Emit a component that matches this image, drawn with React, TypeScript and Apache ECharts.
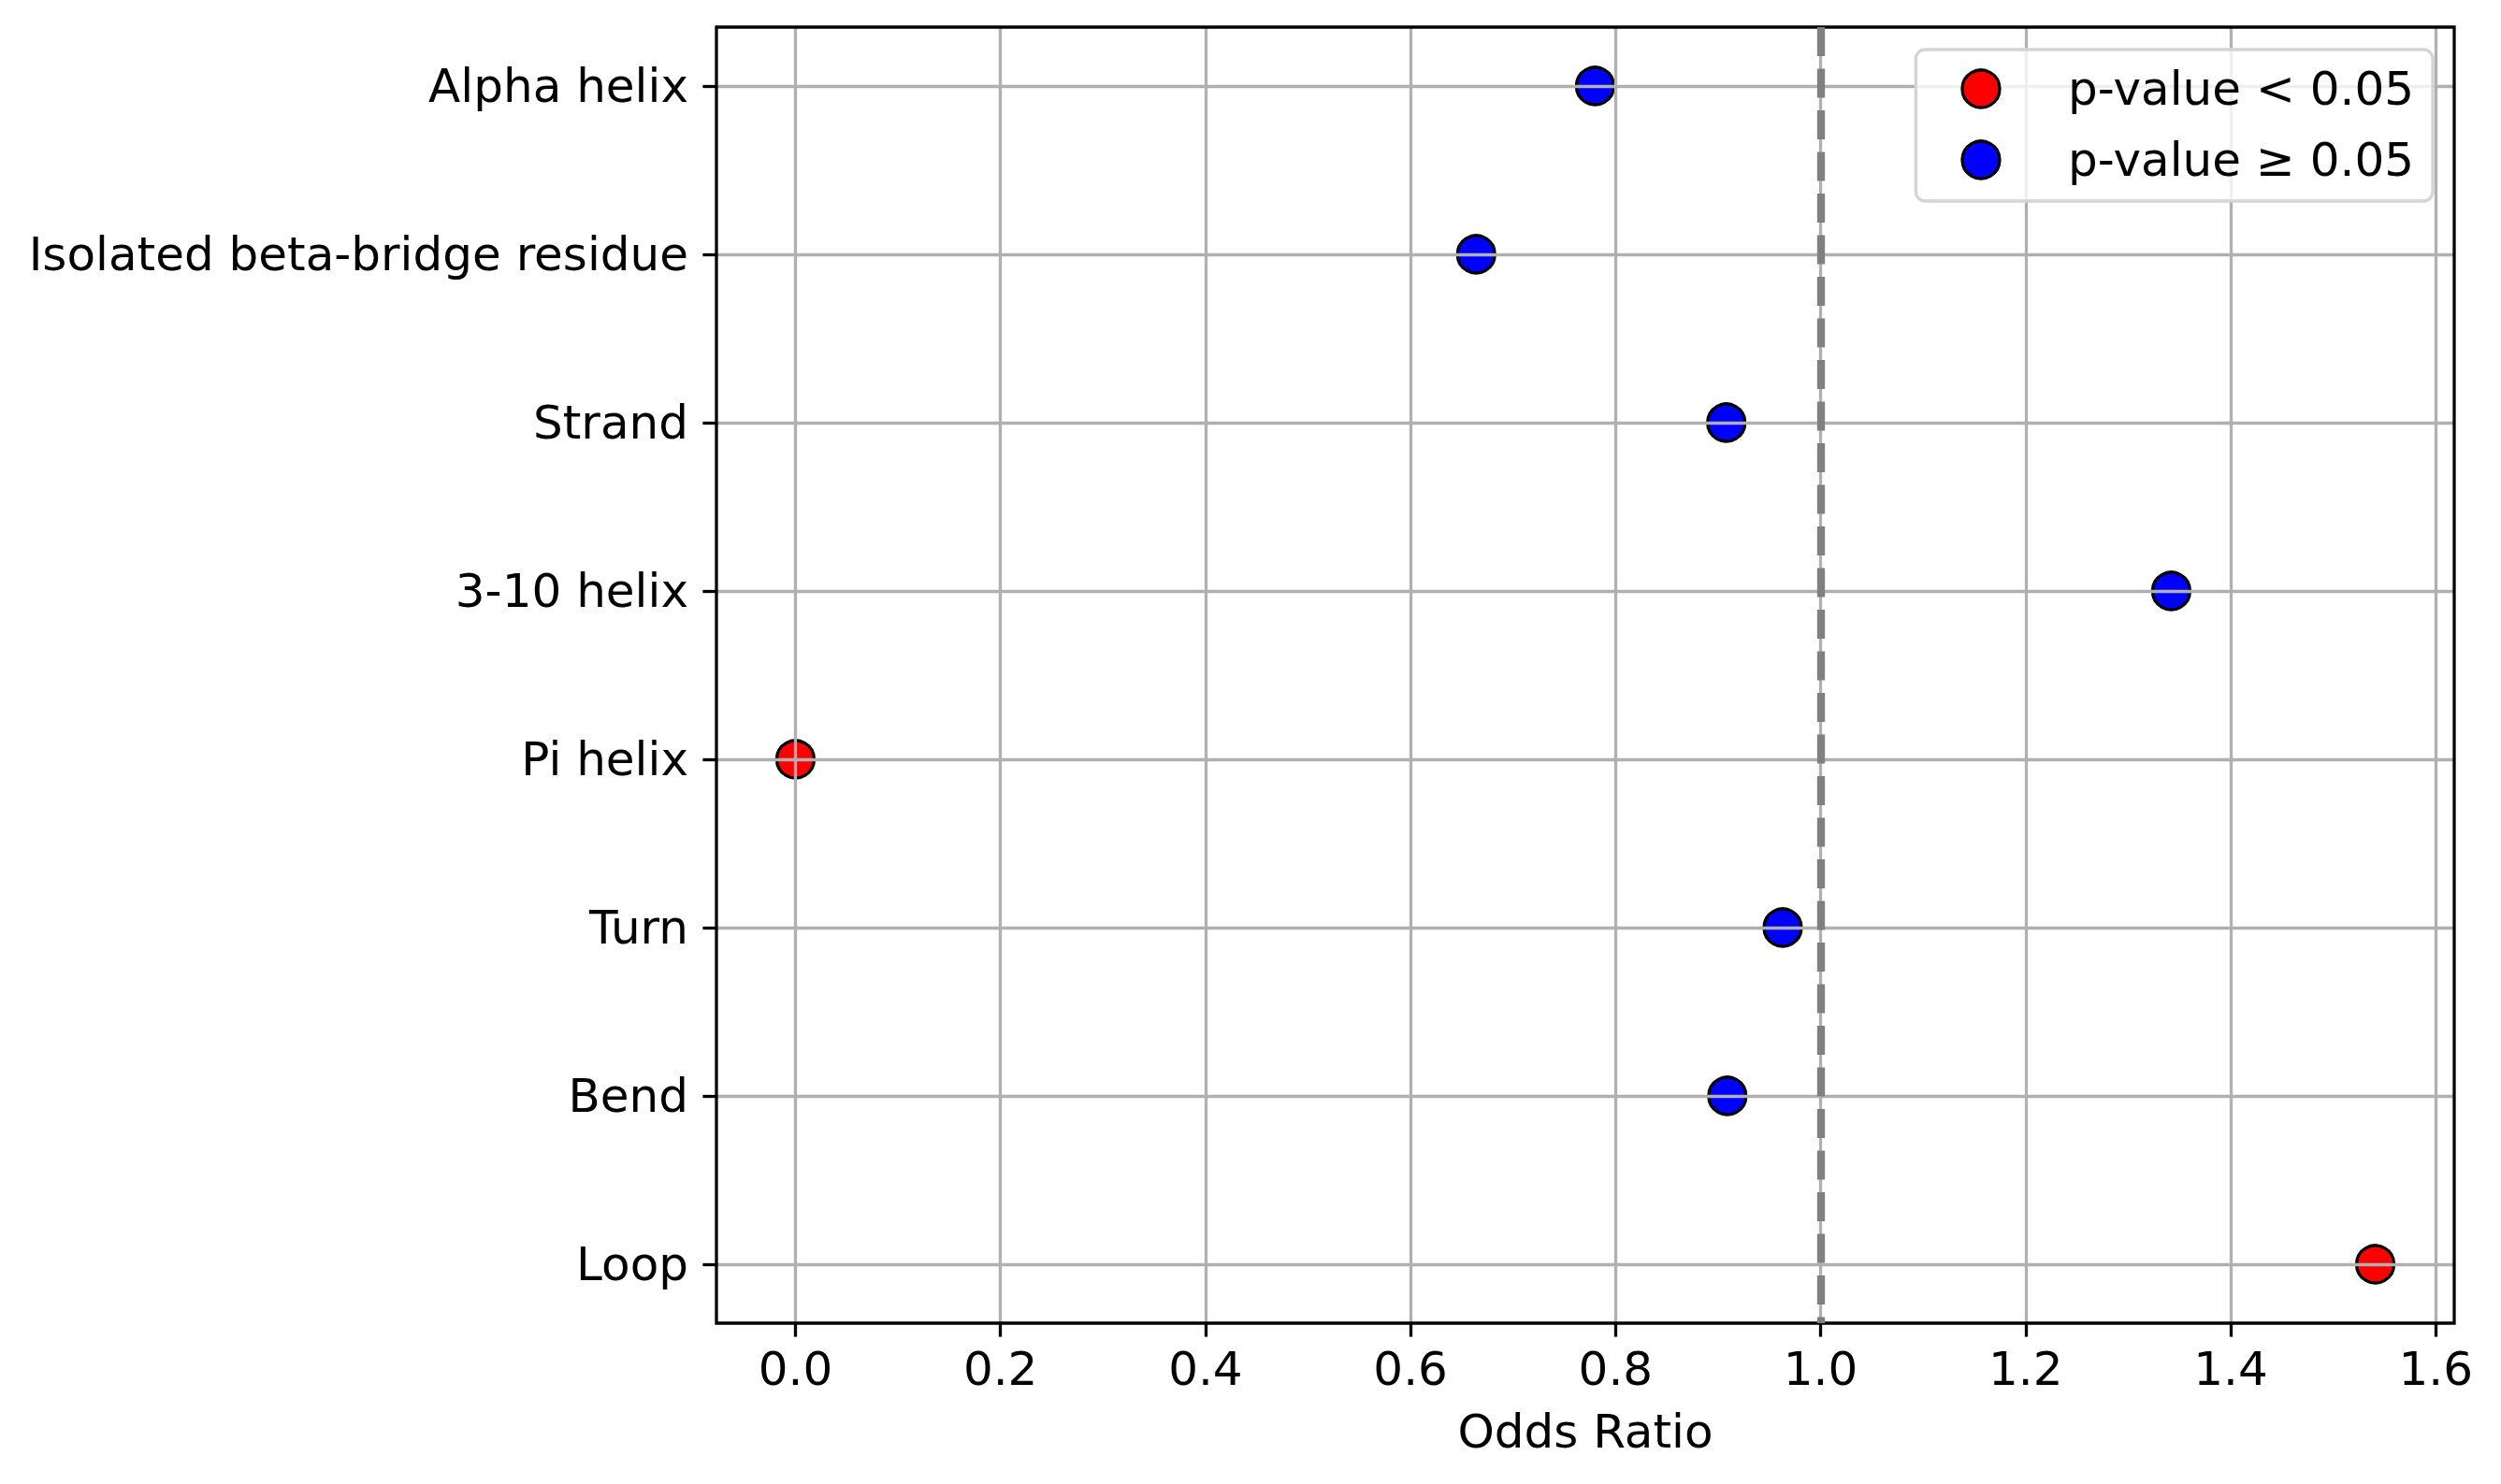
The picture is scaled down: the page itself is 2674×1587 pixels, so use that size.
import React, { useEffect, useRef } from "react";
import * as echarts from "echarts";

// ---- Data ----
const categories = [
  "Alpha helix",
  "Isolated beta-bridge residue",
  "Strand",
  "3-10 helix",
  "Pi helix",
  "Turn",
  "Bend",
  "Loop",
];
const oddsRatios = [0.78, 0.664, 0.908, 1.342, 0.0, 0.963, 0.909, 1.541];
const significant = [false, false, false, false, true, false, false, true];
const legendLabels = ["p-value < 0.05", "p-value \u2265 0.05"];
const seriesColors = ["#ff0000", "#0000ff"];
const xTickMin = 0;
const xTickMax = 1.6;
const xTickStep = 0.2;
const referenceOddsRatio = 1.0;
const xAxisTitle = "Odds Ratio";

// ---- Layout ----
const W = 2674;
const H = 1587;
const PLOT = { left: 766, right: 2624, top: 29, bottom: 1415 };
const FONT = "DejaVu Sans";
const FS = 50;
const LW = 3.3;

export default function App() {
  const ref = useRef<HTMLDivElement>(null);

  useEffect(() => {
    if (!ref.current) return;
    const chart = echarts.init(ref.current, undefined, { renderer: "svg" });

    const dataMin = Math.min(...oddsRatios);
    const dataMax = Math.max(...oddsRatios);
    const xPad = 0.05 * (dataMax - dataMin);
    const X_MIN = dataMin - xPad;
    const X_MAX = dataMax + xPad;
    const n = categories.length;
    const yPad = 0.05 * (n - 1);
    const pw = PLOT.right - PLOT.left;
    const ph = PLOT.bottom - PLOT.top;
    const pxX = (v: number) => PLOT.left + ((v - X_MIN) / (X_MAX - X_MIN)) * pw;
    const pxY = (v: number) => PLOT.top + ((v + yPad) / (n - 1 + 2 * yPad)) * ph;

    const gridCommon = { outerBoundsMode: "none", containLabel: false };

    const sigData: any[] = [];
    const nsData: any[] = [];
    categories.forEach((c, i) => {
      (significant[i] ? sigData : nsData).push([oddsRatios[i], c]);
    });

    const scatterCommon = {
      type: "scatter",
      xAxisIndex: 2,
      yAxisIndex: 2,
      symbol: "circle",
      symbolSize: 40,
      z: 1,
      silent: true,
    };

    const option: any = {
      animation: false,
      backgroundColor: "#ffffff",
      textStyle: { fontFamily: FONT },
      grid: [
        // 0: frame grid
        {
          ...gridCommon,
          show: true,
          left: PLOT.left,
          top: PLOT.top,
          width: pw,
          height: ph,
          borderColor: "#000000",
          borderWidth: LW,
          backgroundColor: "rgba(0,0,0,0)",
          z: 4,
        },
        // 1: x-tick grid
        {
          ...gridCommon,
          left: pxX(xTickMin),
          top: PLOT.top,
          width: pxX(xTickMax) - pxX(xTickMin),
          height: ph,
        },
        // 2: category grid
        {
          ...gridCommon,
          left: PLOT.left,
          top: pxY(0),
          width: pw,
          height: pxY(n - 1) - pxY(0),
        },
      ],
      xAxis: [
        {
          gridIndex: 0,
          type: "value",
          min: X_MIN,
          max: X_MAX,
          axisLine: { show: false, onZero: false },
          axisTick: { show: false },
          axisLabel: { show: false },
          splitLine: { show: false },
          name: xAxisTitle,
          nameLocation: "middle",
          nameGap: 91,
          nameTextStyle: { fontSize: FS, color: "#000", fontFamily: FONT },
        },
        {
          gridIndex: 1,
          type: "value",
          min: xTickMin,
          max: xTickMax,
          interval: xTickStep,
          z: 2,
          axisLine: { show: false, onZero: false },
          axisTick: {
            show: true,
            inside: false,
            length: 14.6,
            lineStyle: { color: "#000", width: LW },
          },
          axisLabel: {
            show: true,
            margin: 24,
            fontSize: FS,
            color: "#000",
            fontFamily: FONT,
            showMinLabel: true,
            showMaxLabel: true,
            formatter: (v: number) => v.toFixed(1),
          },
          splitLine: { show: true, lineStyle: { color: "#b0b0b0", width: LW } },
        },
        {
          gridIndex: 2,
          type: "value",
          min: X_MIN,
          max: X_MAX,
          show: false,
          axisLine: { onZero: false },
        },
      ],
      yAxis: [
        {
          gridIndex: 0,
          type: "value",
          min: -yPad,
          max: n - 1 + yPad,
          inverse: true,
          show: false,
          axisLine: { onZero: false },
        },
        {
          gridIndex: 1,
          type: "value",
          show: false,
          axisLine: { onZero: false },
        },
        {
          gridIndex: 2,
          type: "category",
          data: categories,
          inverse: true,
          boundaryGap: false,
          position: "left",
          z: 2,
          axisLine: { show: false, onZero: false },
          axisTick: {
            show: true,
            inside: false,
            interval: 0,
            length: 14.6,
            lineStyle: { color: "#000", width: LW },
          },
          axisLabel: {
            show: true,
            interval: 0,
            margin: 30,
            fontSize: FS,
            color: "#000",
            fontFamily: FONT,
          },
          splitLine: {
            show: true,
            interval: 0,
            lineStyle: { color: "#b0b0b0", width: LW },
          },
        },
      ],
      legend: {
        data: legendLabels,
        orient: "vertical",
        right: W - 2601,
        top: 53,
        padding: [14, 20, 16, 48],
        itemWidth: 40,
        itemHeight: 40,
        itemGap: 20,
        icon: "circle",
        selectedMode: false,
        z: 6,
        textStyle: {
          fontSize: FS,
          color: "#000",
          fontFamily: FONT,
          lineHeight: 56,
          padding: [0, 0, 0, 68],
        },
        itemStyle: { borderColor: "#000", borderWidth: LW, opacity: 1 },
        borderColor: "#d4d4d4",
        borderWidth: LW,
        borderRadius: 10,
        backgroundColor: "rgba(255,255,255,0.8)",
      },
      series: [
        {
          ...scatterCommon,
          name: legendLabels[0],
          data: sigData,
          itemStyle: {
            color: seriesColors[0],
            borderColor: "#000",
            borderWidth: LW,
            opacity: 1,
          },
        },
        {
          ...scatterCommon,
          name: legendLabels[1],
          data: nsData,
          itemStyle: {
            color: seriesColors[1],
            borderColor: "#000",
            borderWidth: LW,
            opacity: 1,
          },
        },
        {
          type: "scatter",
          name: "reference",
          xAxisIndex: 0,
          yAxisIndex: 0,
          data: [],
          z: 3,
          silent: true,
          markLine: {
            silent: true,
            symbol: ["none", "none"],
            label: { show: false },
            emphasis: { disabled: true },
            lineStyle: { color: "#808080", width: 8.3, type: [31, 13.5] },
            data: [{ xAxis: referenceOddsRatio }],
          },
        },
      ],
    };

    chart.setOption(option);
    return () => chart.dispose();
  }, []);

  return (
    <div
      ref={ref}
      style={{ position: "fixed", left: 0, top: 0, width: W, height: H }}
    />
  );
}
